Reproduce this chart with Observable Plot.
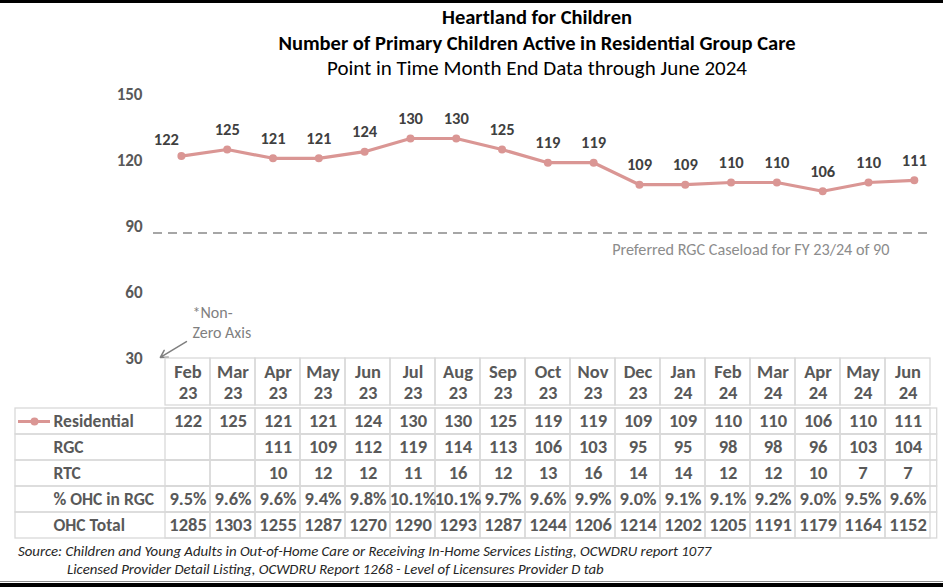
<!DOCTYPE html>
<html>
<head>
<meta charset="utf-8">
<script src="https://cdn.jsdelivr.net/npm/d3@7"></script>
<script src="https://cdn.jsdelivr.net/npm/@observablehq/plot@0.6"></script>
<style>
  html, body { margin: 0; padding: 0; background: #fff; }
  #root { position: relative; width: 943px; height: 587px; overflow: hidden; background: #fff;
          font-family: Carlito, Lato, sans-serif; }
  .title { position: absolute; left: 137px; width: 800px; text-align: center; white-space: nowrap;
           color: #000; line-height: 24px; }
  .source { position: absolute; white-space: nowrap; font-style: italic; font-size: 14.8px; color: #262626; line-height: 18px; }
  .bar { position: absolute; left: 0; width: 943px; }
</style>
</head>
<body>
<div id="root">
  <div class="bar" style="top:0;height:3px;background:#000"></div>
  <div class="title" style="top:5px;font-size:20.5px;font-weight:bold">Heartland for Children</div>
  <div class="title" style="top:31px;font-size:20.5px;font-weight:bold">Number of Primary Children Active in Residential Group Care</div>
  <div class="title" style="top:56px;font-size:21px">Point in Time Month End Data through June 2024</div>
  <div class="source" style="left:18px;top:542px">Source: Children and Young Adults in Out-of-Home Care or Receiving In-Home Services Listing, OCWDRU report 1077</div>
  <div class="source" style="left:67px;top:560px">Licensed Provider Detail Listing, OCWDRU Report 1268 - Level of Licensures Provider D tab</div>
  <div class="bar" style="top:581px;height:1px;background:#8c8c8c"></div>
  <div class="bar" style="top:583px;height:4px;background:#000"></div>
</div>
<script>
// ---------- data ----------
const months = ["Feb 23","Mar 23","Apr 23","May 23","Jun 23","Jul 23","Aug 23","Sep 23","Oct 23","Nov 23","Dec 23","Jan 24","Feb 24","Mar 24","Apr 24","May 24","Jun 24"];
const residential = [122,125,121,121,124,130,130,125,119,119,109,109,110,110,106,110,111];
const rgc = [null,null,111,109,112,119,114,113,106,103,95,95,98,98,96,103,104];
const rtc = [null,null,10,12,12,11,16,12,13,16,14,14,12,12,10,7,7];
const pctOhcInRgc = [9.5,9.6,9.6,9.4,9.8,10.1,10.1,9.7,9.6,9.9,9.0,9.1,9.1,9.2,9.0,9.5,9.6];
const ohcTotal = [1285,1303,1255,1287,1270,1290,1293,1287,1244,1206,1214,1202,1205,1191,1179,1164,1152];
const rowLabels = ["Residential","RGC","RTC","% OHC in RGC","OHC Total"];
const yTicks = [30,60,90,120,150];
const caseloadLine = 87;
const caseloadNote = "Preferred RGC Caseload for FY 23/24 of 90";
const axisNote = "*Non-\nZero Axis";

// ---------- layout / style ----------
const W = 943, H = 587;
const L = 158, R = 936.7;
const chartTop = 94, axisBase = 358, headerBottom = 405.7, tableBottom = 539.3;
const FONT = "Carlito, Lato, sans-serif";
const LINE = "#da9694";
const GRID = "#d9d9d9";
const TXT = "#595959";
const NFS = 18.5;  // table numbers / header
const LFS = 17.5;  // row labels
const baseStyle = {position: "absolute", left: "0px", top: "0px", overflow: "visible", background: "transparent", fontFamily: FONT};
const root = document.getElementById("root");

// ---------- chart ----------
const series = months.map((m, i) => ({i, month: m, value: residential[i]}));
const chart = Plot.plot({
  width: W, height: H,
  marginLeft: L, marginRight: W - R, marginTop: chartTop, marginBottom: H - axisBase,
  style: baseStyle,
  x: {domain: [-0.5, months.length - 0.5], axis: null},
  y: {domain: [30, 150], axis: null},
  marks: [
    Plot.axisY({ticks: yTicks, tickSize: 0, tickPadding: 16, fontSize: 17, fontWeight: "bold", fill: TXT, label: null}),
    Plot.ruleY([caseloadLine], {stroke: "#a6a6a6", strokeWidth: 2, strokeDasharray: "9,6", insetLeft: -5, insetRight: 4.7}),
    Plot.line(series, {x: "i", y: "value", stroke: LINE, strokeWidth: 3.2}),
    Plot.dot(series, {x: "i", y: "value", r: 4, fill: LINE}),
    Plot.text(series.slice(0, 1), {x: "i", y: "value", text: d => String(d.value), dx: -15, dy: -16, fontSize: 16.5, fontWeight: "bold", fill: "#404040"}),
    Plot.text(series.slice(1), {x: "i", y: "value", text: d => String(d.value), dy: -20, fontSize: 16.5, fontWeight: "bold", fill: "#404040"}),
    Plot.text([caseloadNote], {y: () => caseloadLine, text: d => d, frameAnchor: "right", textAnchor: "end", dx: 889 - R, dy: 17, fontSize: 16.2, fill: "#8c8c8c"}),
    Plot.text([axisNote], {text: d => d, frameAnchor: "bottom-left", textAnchor: "start", dx: 34, dy: -21, lineHeight: 1.25, fontSize: 16, fill: "#7f7f7f"}),
    Plot.arrow([axisNote], {x1: () => 0.11, y1: () => 37.7, x2: () => -0.46, y2: () => 30.5, stroke: "#7f7f7f", strokeWidth: 1.5, headLength: 8})
  ]
});
root.appendChild(chart);

// ---------- table header ----------
const header = Plot.plot({
  width: W, height: H,
  marginLeft: L, marginRight: W - R, marginTop: axisBase, marginBottom: H - headerBottom,
  style: baseStyle,
  x: {type: "band", domain: months, padding: 0, axis: null},
  y: {type: "band", domain: ["header"], padding: 0, axis: null},
  marks: [
    Plot.cell(months, {x: d => d, y: () => "header", fill: "none", stroke: GRID, strokeWidth: 1.3}),
    Plot.text(months, {x: d => d, y: () => "header", text: d => d.replace(" ", "\n"), lineHeight: 21 / NFS, fontSize: NFS, fontWeight: "bold", fill: TXT})
  ]
});
root.appendChild(header);

// ---------- table body ----------
const rowValues = [residential, rgc, rtc, pctOhcInRgc, ohcTotal];
const fmt = (ri, v) => v == null ? "" : (rowLabels[ri] === "% OHC in RGC" ? v.toFixed(1) + "%" : String(v));
const cells = rowLabels.flatMap((r, ri) => months.map((m, mi) => ({row: r, month: m, text: fmt(ri, rowValues[ri][mi])})));
const body = Plot.plot({
  width: W, height: H,
  marginLeft: L, marginRight: W - R, marginTop: headerBottom, marginBottom: H - tableBottom,
  style: baseStyle,
  x: {type: "band", domain: months, padding: 0, axis: null},
  y: {type: "band", domain: rowLabels, padding: 0, axis: null},
  marks: [
    Plot.cell(rowLabels, {y: d => d, fill: "none", stroke: GRID, strokeWidth: 1.3, insetLeft: 15 - L}),
    Plot.cell(cells, {x: "month", y: "row", fill: "none", stroke: GRID, strokeWidth: 1.3}),
    Plot.text(cells.filter(d => d.text !== ""), {x: "month", y: "row", text: "text", fontSize: NFS, fontWeight: "bold", fill: TXT}),
    Plot.text(rowLabels, {y: d => d, text: d => d, frameAnchor: "left", textAnchor: "start", dx: 53 - L, fontSize: LFS, fontWeight: "bold", fill: TXT}),
    Plot.ruleY(["Residential"], {y: d => d, stroke: LINE, strokeWidth: 3, insetLeft: 18 - L, insetRight: R - 50}),
    Plot.dot(["Residential"], {y: d => d, frameAnchor: "left", dx: 34 - L, r: 4, fill: LINE})
  ]
});
root.appendChild(body);
</script>
</body>
</html>
